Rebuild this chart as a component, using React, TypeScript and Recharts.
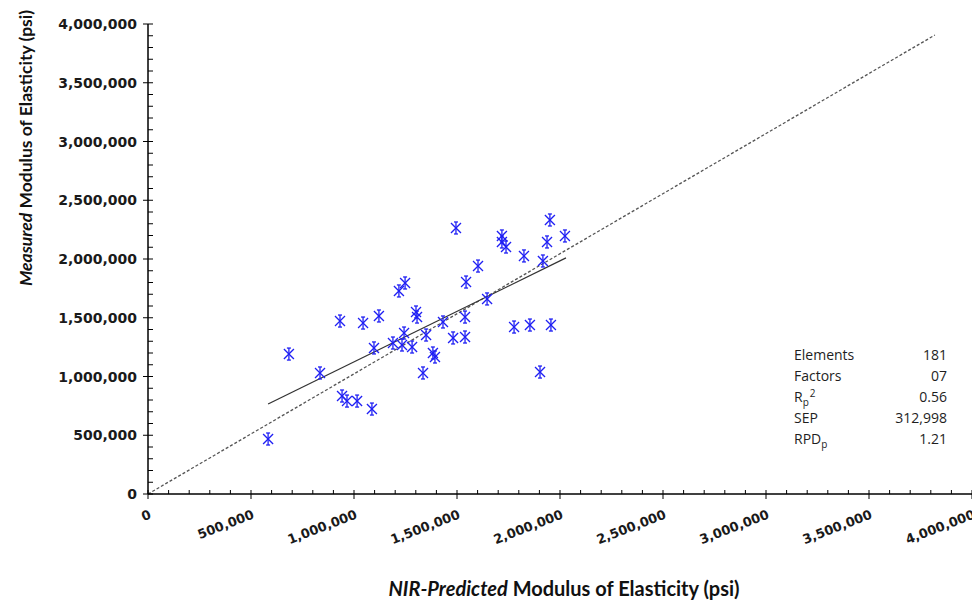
import React from 'react';
import { ScatterChart, Scatter, XAxis, YAxis, ReferenceLine } from 'recharts';

// NIR-predicted vs measured MOE (psi)
const predicted = [
  583000, 684000, 835000, 942000, 966000, 1015000, 1087000, 932000, 1044000, 1121000,
  1097000, 1189000, 1233000, 1282000, 1243000, 1218000, 1248000, 1301000, 1306000, 1335000,
  1350000, 1383000, 1393000, 1432000, 1481000, 1539000, 1539000, 1495000, 1544000, 1602000,
  1646000, 1718000, 1718000, 1738000, 1777000, 1825000, 1854000, 1903000, 1917000, 1937000,
  1951000, 1956000, 2024000,
];
const measured = [
  468000, 1191000, 1030000, 834000, 791000, 791000, 723000, 1472000, 1455000, 1515000,
  1243000, 1285000, 1268000, 1251000, 1370000, 1728000, 1796000, 1549000, 1506000, 1030000,
  1353000, 1200000, 1166000, 1464000, 1328000, 1336000, 1506000, 2264000, 1804000, 1940000,
  1660000, 2196000, 2145000, 2102000, 1421000, 2026000, 1438000, 1038000, 1983000, 2145000,
  2332000, 1438000, 2196000,
];

// fitted line and 1:1 line end points
const fitLine = [
  { x: 583000, y: 766000 },
  { x: 2029000, y: 2009000 },
];
const identityLine = [
  { x: 0, y: 0 },
  { x: 3820000, y: 3906000 },
];

const majorTicks = [0, 500000, 1000000, 1500000, 2000000, 2500000, 3000000, 3500000, 4000000];
const minorStep = 100000;
const allTicks = Array.from({ length: 41 }, (_, i) => i * minorStep);

const statLabels = ['Elements', 'Factors', 'Rp2', 'SEP', 'RPDp'];
const statValues = ['181', '07', '0.56', '312,998', '1.21'];

const points = predicted.map((x, i) => ({ x, y: measured[i] }));

const fmt = (v: number) => v.toLocaleString('en-US');
const tickFont = '"DejaVu Sans", Verdana, sans-serif';
const titleFont = 'Lato, "Open Sans", sans-serif';

const XTick = (props: any) => {
  const { x, y, payload } = props;
  const v = payload.value as number;
  const major = majorTicks.includes(v);
  const ax = x + 4;
  const ay = y + 24;
  return (
    <g>
      <line x1={x} x2={x} y1={y - 4} y2={major ? y + 5 : y} stroke="#000" strokeWidth={1} />
      {major && (
        <text
          x={ax}
          y={ay}
          textAnchor="end"
          transform={`rotate(-21 ${ax} ${ay})`}
          fontFamily={tickFont}
          fontWeight="bold"
          fontSize={13}
          fill="#1a1a1a"
        >
          {fmt(v)}
        </text>
      )}
    </g>
  );
};

const YTick = (props: any) => {
  const { x, y, payload } = props;
  const v = payload.value as number;
  const major = majorTicks.includes(v);
  return (
    <g>
      <line x1={major ? x - 5 : x} x2={x + 5} y1={y} y2={y} stroke="#000" strokeWidth={1} />
      {major && (
        <text
          x={x - 11}
          y={y}
          dy="0.36em"
          textAnchor="end"
          fontFamily={tickFont}
          fontWeight="bold"
          fontSize={14}
          fill="#1a1a1a"
        >
          {fmt(v)}
        </text>
      )}
    </g>
  );
};

const Star = (props: any) => {
  const { cx, cy } = props;
  return (
    <g stroke="#2020f4" strokeWidth={1.3} fill="none">
      <line x1={cx} y1={cy - 6} x2={cx} y2={cy + 6} />
      <line x1={cx - 5} y1={cy - 5} x2={cx + 5} y2={cy + 5} />
      <line x1={cx - 5} y1={cy + 5} x2={cx + 5} y2={cy - 5} />
      <line x1={cx - 2} y1={cy - 6} x2={cx + 2} y2={cy - 6} />
      <line x1={cx - 2} y1={cy + 6} x2={cx + 2} y2={cy + 6} />
    </g>
  );
};

const small: React.CSSProperties = { fontSize: 10, position: 'relative', lineHeight: 0 };

const StatLabel = ({ text }: { text: string }) => {
  if (text === 'Rp2')
    return (
      <span>
        R<span style={{ ...small, top: 4 }}>p</span>
        <span style={{ ...small, top: -5, marginLeft: 1 }}>2</span>
      </span>
    );
  if (text === 'RPDp')
    return (
      <span>
        RPD<span style={{ ...small, top: 4 }}>p</span>
      </span>
    );
  return <span>{text}</span>;
};

const App: React.FC = () => {
  return (
    <div style={{ position: 'relative', width: 972, height: 600 }}>
      <ScatterChart width={972} height={600} margin={{ top: 16, right: 8, bottom: 14, left: 0 }}>
        <XAxis
          type="number"
          dataKey="x"
          domain={[0, 4000000]}
          ticks={allTicks}
          interval={0}
          tickSize={0}
          tickMargin={0}
          tickLine={false}
          tick={<XTick />}
          axisLine={{ stroke: '#000', strokeWidth: 1.5 }}
          height={100}
          allowDataOverflow
        />
        <YAxis
          type="number"
          dataKey="y"
          domain={[0, 4000000]}
          ticks={allTicks}
          interval={0}
          tickSize={0}
          tickMargin={0}
          tickLine={false}
          tick={<YTick />}
          axisLine={{ stroke: '#000', strokeWidth: 1.5 }}
          width={140}
          allowDataOverflow
        />
        <ReferenceLine
          segment={identityLine}
          stroke="#555"
          strokeWidth={1.3}
          strokeDasharray="3 2"
          ifOverflow="visible"
        />
        <ReferenceLine segment={fitLine} stroke="#333" strokeWidth={1.3} ifOverflow="visible" />
        <Scatter data={points} shape={<Star />} isAnimationActive={false} />
      </ScatterChart>

      <div
        style={{
          position: 'absolute',
          left: 17,
          top: 140,
          transform: 'translate(-50%, -50%) rotate(-90deg)',
          whiteSpace: 'nowrap',
          fontFamily: titleFont,
          fontWeight: 'bold',
          fontSize: 17.5,
          color: '#111',
        }}
      >
        <i>Measured</i> Modulus of Elasticity (psi)
      </div>

      <div
        style={{
          position: 'absolute',
          left: 556,
          top: 580,
          transform: 'translate(-50%, -50%)',
          whiteSpace: 'nowrap',
          fontFamily: titleFont,
          fontWeight: 'bold',
          fontSize: 20,
          color: '#111',
        }}
      >
        <i>NIR-Predicted</i> Modulus of Elasticity (psi)
      </div>

      <div
        style={{
          position: 'absolute',
          left: 786,
          top: 336,
          width: 153,
          fontFamily: '"Open Sans", sans-serif',
          fontSize: 14,
          color: '#1e1e1e',
          lineHeight: '21px',
        }}
      >
        {statLabels.map((l, i) => (
          <div key={l} style={{ display: 'flex', justifyContent: 'space-between', height: 21 }}>
            <StatLabel text={l} />
            <span>{statValues[i]}</span>
          </div>
        ))}
      </div>
    </div>
  );
};

export default App;
